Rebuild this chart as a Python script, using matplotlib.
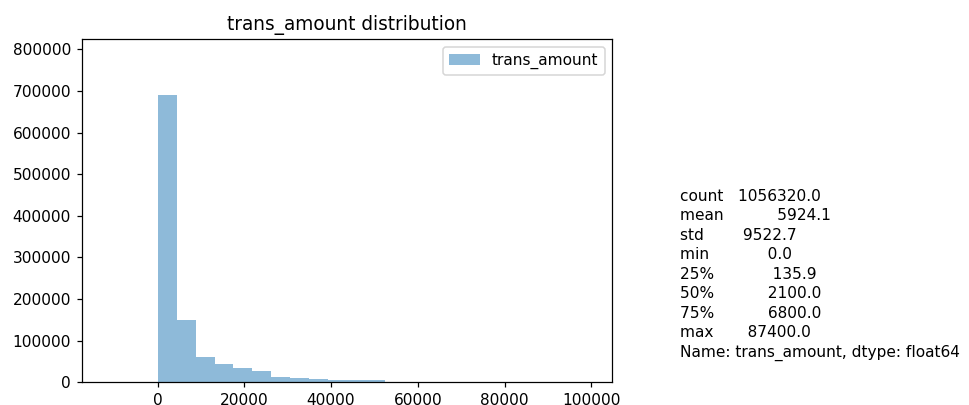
import numpy as np
import matplotlib
matplotlib.use("Agg")
import matplotlib.pyplot as plt

# Histogram counts of trans_amount, 20 equal-width bins from min to max
amount_min = 0.0
amount_max = 87400.0
bin_counts = [690000, 150000, 60500, 43000, 35500, 26500, 12000, 10500,
              9000, 6500, 6000, 5000, 1500, 800, 500, 300, 200, 150, 100, 50]

# Summary statistics printed next to the plot
stat_names = ["count", "mean", "std", "min", "25%", "50%", "75%", "max"]
stat_values = ["1056320.0", "5924.1", "9522.7", "0.0", "135.9",
               "2100.0", "6800.0", "87400.0"]
stat_gaps = [3, 11, 8, 12, 12, 11, 11, 7]
series_footer = "Name: trans_amount, dtype: float64"

yticks = [0, 100000, 200000, 300000, 400000, 500000, 600000, 700000, 800000]
xticks = [0, 20000, 40000, 60000, 80000, 100000]

fig = plt.figure(figsize=(969 / 111, 405 / 111), dpi=111)
ax = fig.add_axes([0.0846, 0.0560, 0.5473, 0.8477])

edges = np.linspace(amount_min, amount_max, len(bin_counts) + 1)
centers = (edges[:-1] + edges[1:]) / 2
ax.hist(centers, bins=edges, weights=bin_counts, alpha=0.5,
        label="trans_amount")

ax.set_xlim(-17470, 104870)
ax.set_ylim(0, 825000)
ax.set_xticks(xticks)
ax.set_yticks(yticks)
ax.set_title("trans_amount distribution")
ax.legend(loc="upper right")

lines = [f"{n}{' ' * g}{v}" for n, g, v in zip(stat_names, stat_gaps, stat_values)]
lines.append(series_footer)
fig.text(680 / 969, 1 - 356.7 / 405, "\n".join(lines), fontsize=10,
         va="baseline", ha="left", linespacing=1.377)

fig.savefig("out.png", dpi=111)
